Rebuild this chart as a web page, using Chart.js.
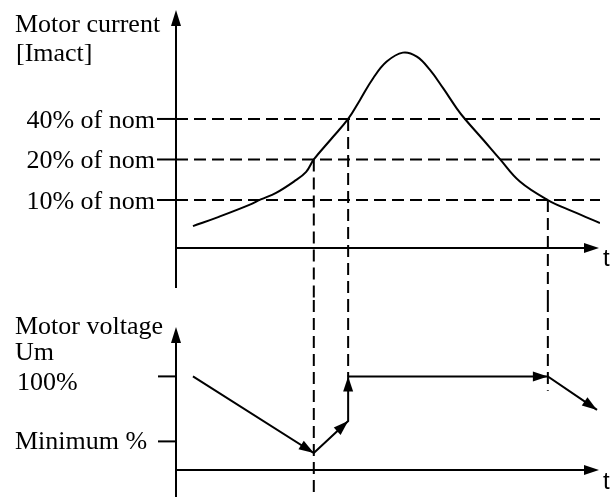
<!DOCTYPE html>
<html>
<head>
<meta charset="utf-8">
<script src="https://cdn.jsdelivr.net/npm/chart.js@4.4.1/dist/chart.umd.min.js"></script>
<style>
  html, body { margin: 0; padding: 0; background: #fff; }
  #wrap { position: relative; width: 614px; height: 497px; }
  canvas { position: absolute; left: 0; }
</style>
</head>
<body>
<div id="wrap">
  <canvas id="currentChart" width="614" height="300" style="top:0"></canvas>
  <canvas id="voltageChart" width="614" height="197" style="top:300px"></canvas>
</div>
<script>
// time axis shared by both panels (arbitrary units)
const timeMin = 0, timeMax = 100;

// motor current in % of nominal (drawn on a log scale)
const currentTime = [4, 10.1, 17.3, 20, 23.6, 27.8, 30.7, 32.5, 36.6, 40.6, 43.4, 46.5, 49.7, 53.5, 56.8, 59.9, 63, 66.2, 68.2, 72.5, 76.4, 81.1, 87.7, 93.7, 100];
const currentValues = [6.4, 7.5, 9.2, 10.1, 11.3, 13.7, 16.2, 20, 28.4, 40, 55.4, 80.3, 106.7, 124.4, 116.2, 92.5, 67.7, 48, 39.8, 27.9, 20.1, 13.7, 10, 8.2, 6.75];
const currentLevels = [40, 20, 10];
const currentTickLabels = ["40% of nom", "20% of nom", "10% of nom"];

// motor voltage in %, every segment ends with an arrow
const voltageTime = [4, 32.5, 40.6, 40.6, 87.7, 99.3];
const voltageValues = [100, 41, 65.7, 100, 100, 74.2];
const voltageLevels = [100, 50];
const voltageTickLabels = ["100%", "Minimum %"];

// threshold crossings -> vertical dashed guides
const eventTime = [32.5, 40.6, 87.7];
const eventCurrent = [20, 40, 10];
const eventVoltageEnd = [null, 100, 89]; // null = down to the bottom

const serif = "26px 'Liberation Serif', 'Times New Roman', serif";
const sans = "24px 'Liberation Sans', Arial, sans-serif";

function arrowHead(ctx, x0, y0, x1, y1, len, half) {
    const a = Math.atan2(y1 - y0, x1 - x0);
    const c = Math.cos(a), s = Math.sin(a);
    ctx.beginPath();
    ctx.moveTo(x1, y1);
    ctx.lineTo(x1 - len * c + half * s, y1 - len * s - half * c);
    ctx.lineTo(x1 - len * c - half * s, y1 - len * s + half * c);
    ctx.closePath();
    ctx.fill();
}

function line(ctx, x0, y0, x1, y1, dash) {
    ctx.save();
    ctx.setLineDash(dash || []);
    ctx.beginPath();
    ctx.moveTo(x0, y0);
    ctx.lineTo(x1, y1);
    ctx.stroke();
    ctx.restore();
}

function text(ctx, str, x, y, align, font) {
    ctx.font = font || serif;
    ctx.textAlign = align || "left";
    ctx.textBaseline = "alphabetic";
    ctx.fillText(str, x, y);
}

const currentDecor = {
    id: "currentDecor",
    afterDraw(chart) {
        const ctx = chart.ctx, area = chart.chartArea;
        const x = chart.scales.x, y = chart.scales.y;
        ctx.save();
        ctx.strokeStyle = "#000";
        ctx.fillStyle = "#000";
        ctx.lineWidth = 2;

        // axes
        line(ctx, area.left, area.top + 8, area.left, area.bottom + 40);
        arrowHead(ctx, area.left, area.top + 20, area.left, area.top - 3, 16, 5);
        line(ctx, area.left, area.bottom, area.right - 10, area.bottom);
        arrowHead(ctx, area.left, area.bottom, area.right - 1, area.bottom, 15, 5);

        // ticks + labels
        currentLevels.forEach((lv, i) => {
            const py = y.getPixelForValue(lv);
            line(ctx, area.left - 19, py, area.left, py);
            text(ctx, currentTickLabels[i], area.left - 21, py + 9, "right");
        });

        // vertical guides running down into the voltage panel
        eventTime.forEach((t, i) => {
            const px = x.getPixelForValue(t);
            line(ctx, px, y.getPixelForValue(eventCurrent[i]), px, chart.height, [12, 6]);
        });

        text(ctx, "Motor current", 15, 32);
        text(ctx, "[Imact]", 16, 61);
        text(ctx, "t", area.right + 3, area.bottom + 18, "left", sans);
        ctx.restore();
    }
};

const voltageDecor = {
    id: "voltageDecor",
    afterDatasetsDraw(chart) {
        const ctx = chart.ctx;
        const pts = chart.getDatasetMeta(0).data;
        ctx.save();
        ctx.fillStyle = "#000";
        for (let i = 1; i < pts.length; i++) {
            arrowHead(ctx, pts[i - 1].x, pts[i - 1].y, pts[i].x, pts[i].y, 15, 5);
        }
        ctx.restore();
    },
    afterDraw(chart) {
        const ctx = chart.ctx, area = chart.chartArea;
        const x = chart.scales.x, y = chart.scales.y;
        ctx.save();
        ctx.strokeStyle = "#000";
        ctx.fillStyle = "#000";
        ctx.lineWidth = 2;

        line(ctx, area.left, area.top - 2, area.left, chart.height);
        arrowHead(ctx, area.left, area.top + 10, area.left, area.top - 13, 16, 5);
        line(ctx, area.left, area.bottom, area.right - 10, area.bottom);
        arrowHead(ctx, area.left, area.bottom, area.right - 1, area.bottom, 15, 5);

        voltageLevels.forEach((lv, i) => {
            const py = y.getPixelForValue(lv);
            line(ctx, area.left - 18, py, area.left, py);
        });
        text(ctx, voltageTickLabels[0], 17, y.getPixelForValue(voltageLevels[0]) + 14);
        text(ctx, voltageTickLabels[1], 15, y.getPixelForValue(voltageLevels[1]) + 8);

        eventTime.forEach((t, i) => {
            const px = x.getPixelForValue(t);
            const end = eventVoltageEnd[i] === null ? chart.height : y.getPixelForValue(eventVoltageEnd[i]);
            line(ctx, px, 0, px, end, [12, 6]);
        });

        text(ctx, "Motor voltage", 15, 34);
        text(ctx, "Um", 15, 60);
        text(ctx, "t", area.right + 3, area.bottom + 19, "left", sans);
        ctx.restore();
    }
};

function baseOptions(padding, yScale) {
    return {
        responsive: false,
        animation: false,
        layout: { padding: padding },
        plugins: { legend: { display: false }, tooltip: { enabled: false } },
        elements: { point: { radius: 0 } },
        scales: {
            x: { type: "linear", min: timeMin, max: timeMax, display: false, bounds: "data" },
            y: Object.assign({ display: false, bounds: "data" }, yScale)
        }
    };
}

const levelSets = currentLevels.map(lv => ({
    data: [{ x: timeMin, y: lv }, { x: timeMax, y: lv }],
    borderColor: "#000",
    borderWidth: 2,
    borderDash: [12, 6]
}));

new Chart(document.getElementById("currentChart"), {
    type: "line",
    data: {
        datasets: [{
            data: currentTime.map((t, i) => ({ x: t, y: currentValues[i] })),
            borderColor: "#000",
            borderWidth: 2,
            tension: 0.4
        }].concat(levelSets)
    },
    options: baseOptions({ left: 176, right: 14, top: 13, bottom: 52 },
        { type: "logarithmic", min: 4.4, max: 245 }),
    plugins: [currentDecor]
});

new Chart(document.getElementById("voltageChart"), {
    type: "line",
    data: {
        datasets: [{
            data: voltageTime.map((t, i) => ({ x: t, y: voltageValues[i] })),
            borderColor: "#000",
            borderWidth: 2,
            tension: 0,
            clip: false
        }]
    },
    options: baseOptions({ left: 176, right: 14, top: 40, bottom: 27 },
        { type: "linear", min: 28, max: 128 }),
    plugins: [voltageDecor]
});
</script>
</body>
</html>
